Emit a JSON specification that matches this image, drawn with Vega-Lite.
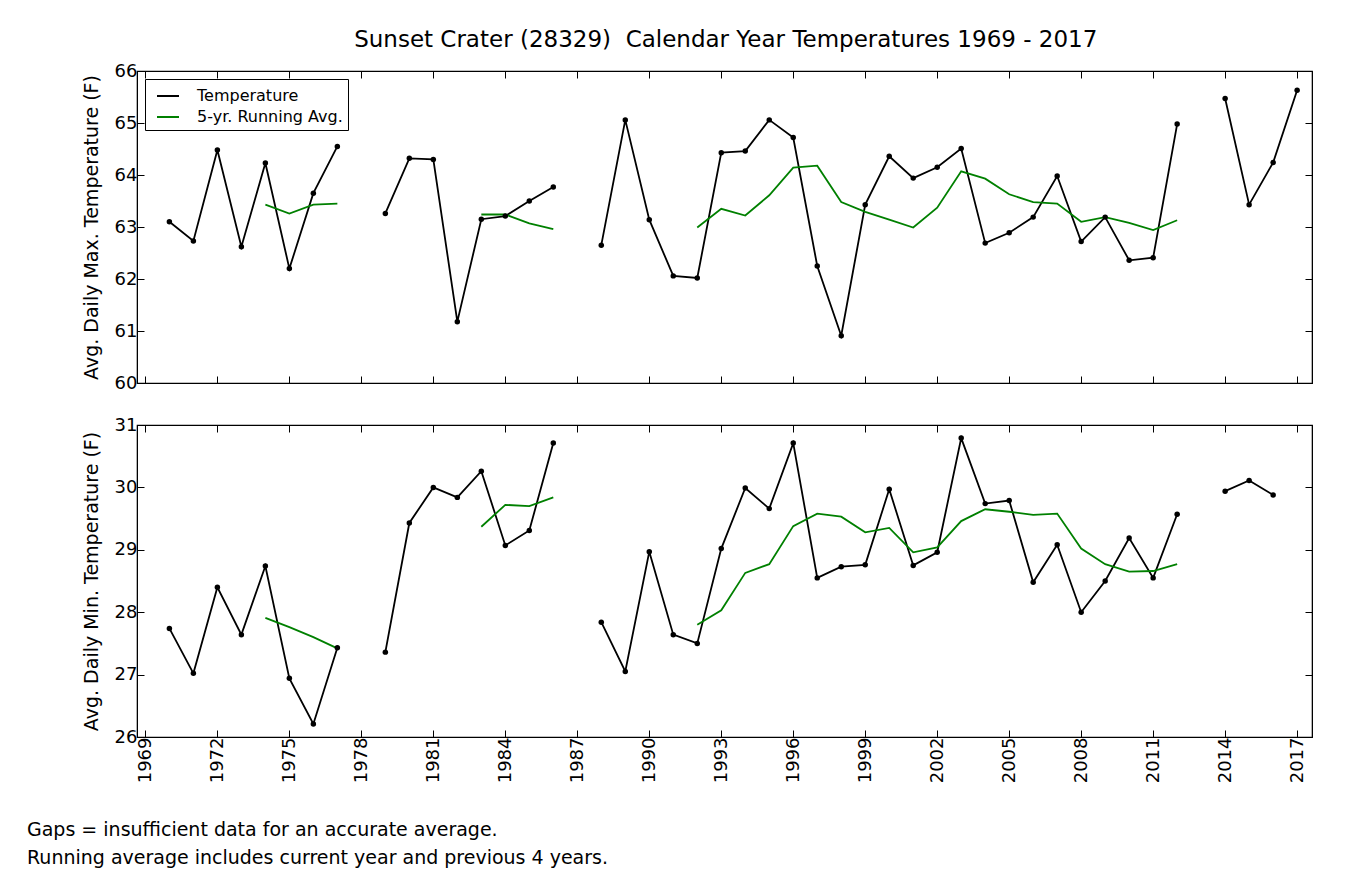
{
  "$schema": "https://vega.github.io/schema/vega-lite/v6.json",
  "background": "white",
  "padding": {"left": 26, "top": 29, "right": 10, "bottom": 5},
  "title": {
    "text": "Sunset Crater (28329)\u00a0 Calendar Year Temperatures 1969 - 2017",
    "font": "DejaVu Sans", "fontSize": 23, "fontWeight": "normal", "color": "black",
    "anchor": "middle", "offset": 9, "dx": 56
  },
  "config": {
    "font": "DejaVu Sans",
    "view": {"stroke": "black", "strokeWidth": 1.2},
    "axis": {
      "domainColor": "black", "tickColor": "black", "labelColor": "black", "titleColor": "black",
      "labelFont": "DejaVu Sans", "titleFont": "DejaVu Sans", "labelFontSize": 18, "titleFontSize": 19,
      "titleFontWeight": "normal", "grid": false, "tickSize": -7, "tickWidth": 1, "labelPadding": 7
    }
  },
  "datasets": {
    "tmax": [
      {"year": 1970, "series": "Temperature", "temp": 63.10},
      {"year": 1971, "series": "Temperature", "temp": 62.73},
      {"year": 1972, "series": "Temperature", "temp": 64.48},
      {"year": 1973, "series": "Temperature", "temp": 62.62},
      {"year": 1974, "series": "Temperature", "temp": 64.23},
      {"year": 1975, "series": "Temperature", "temp": 62.20},
      {"year": 1976, "series": "Temperature", "temp": 63.65},
      {"year": 1977, "series": "Temperature", "temp": 64.55},
      {"year": 1978, "series": "Temperature", "temp": null},
      {"year": 1979, "series": "Temperature", "temp": 63.26},
      {"year": 1980, "series": "Temperature", "temp": 64.32},
      {"year": 1981, "series": "Temperature", "temp": 64.30},
      {"year": 1982, "series": "Temperature", "temp": 61.18},
      {"year": 1983, "series": "Temperature", "temp": 63.15},
      {"year": 1984, "series": "Temperature", "temp": 63.21},
      {"year": 1985, "series": "Temperature", "temp": 63.50},
      {"year": 1986, "series": "Temperature", "temp": 63.77},
      {"year": 1987, "series": "Temperature", "temp": null},
      {"year": 1988, "series": "Temperature", "temp": 62.65},
      {"year": 1989, "series": "Temperature", "temp": 65.06},
      {"year": 1990, "series": "Temperature", "temp": 63.14},
      {"year": 1991, "series": "Temperature", "temp": 62.06},
      {"year": 1992, "series": "Temperature", "temp": 62.02},
      {"year": 1993, "series": "Temperature", "temp": 64.43},
      {"year": 1994, "series": "Temperature", "temp": 64.46},
      {"year": 1995, "series": "Temperature", "temp": 65.06},
      {"year": 1996, "series": "Temperature", "temp": 64.72},
      {"year": 1997, "series": "Temperature", "temp": 62.25},
      {"year": 1998, "series": "Temperature", "temp": 60.91},
      {"year": 1999, "series": "Temperature", "temp": 63.43},
      {"year": 2000, "series": "Temperature", "temp": 64.36},
      {"year": 2001, "series": "Temperature", "temp": 63.94},
      {"year": 2002, "series": "Temperature", "temp": 64.15},
      {"year": 2003, "series": "Temperature", "temp": 64.51},
      {"year": 2004, "series": "Temperature", "temp": 62.69},
      {"year": 2005, "series": "Temperature", "temp": 62.89},
      {"year": 2006, "series": "Temperature", "temp": 63.19},
      {"year": 2007, "series": "Temperature", "temp": 63.98},
      {"year": 2008, "series": "Temperature", "temp": 62.72},
      {"year": 2009, "series": "Temperature", "temp": 63.19},
      {"year": 2010, "series": "Temperature", "temp": 62.36},
      {"year": 2011, "series": "Temperature", "temp": 62.41},
      {"year": 2012, "series": "Temperature", "temp": 64.98},
      {"year": 2013, "series": "Temperature", "temp": null},
      {"year": 2014, "series": "Temperature", "temp": 65.47},
      {"year": 2015, "series": "Temperature", "temp": 63.43},
      {"year": 2016, "series": "Temperature", "temp": 64.24},
      {"year": 2017, "series": "Temperature", "temp": 65.63},
      {"year": 1974, "series": "5-yr. Running Avg.", "temp": 63.43},
      {"year": 1975, "series": "5-yr. Running Avg.", "temp": 63.26},
      {"year": 1976, "series": "5-yr. Running Avg.", "temp": 63.43},
      {"year": 1977, "series": "5-yr. Running Avg.", "temp": 63.45},
      {"year": 1978, "series": "5-yr. Running Avg.", "temp": null},
      {"year": 1983, "series": "5-yr. Running Avg.", "temp": 63.24},
      {"year": 1984, "series": "5-yr. Running Avg.", "temp": 63.24},
      {"year": 1985, "series": "5-yr. Running Avg.", "temp": 63.07},
      {"year": 1986, "series": "5-yr. Running Avg.", "temp": 62.96},
      {"year": 1987, "series": "5-yr. Running Avg.", "temp": null},
      {"year": 1992, "series": "5-yr. Running Avg.", "temp": 62.99},
      {"year": 1993, "series": "5-yr. Running Avg.", "temp": 63.35},
      {"year": 1994, "series": "5-yr. Running Avg.", "temp": 63.22},
      {"year": 1995, "series": "5-yr. Running Avg.", "temp": 63.61},
      {"year": 1996, "series": "5-yr. Running Avg.", "temp": 64.14},
      {"year": 1997, "series": "5-yr. Running Avg.", "temp": 64.18},
      {"year": 1998, "series": "5-yr. Running Avg.", "temp": 63.48},
      {"year": 1999, "series": "5-yr. Running Avg.", "temp": 63.29},
      {"year": 2000, "series": "5-yr. Running Avg.", "temp": 63.14},
      {"year": 2001, "series": "5-yr. Running Avg.", "temp": 62.99},
      {"year": 2002, "series": "5-yr. Running Avg.", "temp": 63.37},
      {"year": 2003, "series": "5-yr. Running Avg.", "temp": 64.07},
      {"year": 2004, "series": "5-yr. Running Avg.", "temp": 63.93},
      {"year": 2005, "series": "5-yr. Running Avg.", "temp": 63.63},
      {"year": 2006, "series": "5-yr. Running Avg.", "temp": 63.48},
      {"year": 2007, "series": "5-yr. Running Avg.", "temp": 63.45},
      {"year": 2008, "series": "5-yr. Running Avg.", "temp": 63.10},
      {"year": 2009, "series": "5-yr. Running Avg.", "temp": 63.19},
      {"year": 2010, "series": "5-yr. Running Avg.", "temp": 63.08},
      {"year": 2011, "series": "5-yr. Running Avg.", "temp": 62.94},
      {"year": 2012, "series": "5-yr. Running Avg.", "temp": 63.13}
    ],
    "tmin": [
      {"year": 1970, "series": "Temperature", "temp": 27.74},
      {"year": 1971, "series": "Temperature", "temp": 27.02},
      {"year": 1972, "series": "Temperature", "temp": 28.40},
      {"year": 1973, "series": "Temperature", "temp": 27.64},
      {"year": 1974, "series": "Temperature", "temp": 28.74},
      {"year": 1975, "series": "Temperature", "temp": 26.94},
      {"year": 1976, "series": "Temperature", "temp": 26.21},
      {"year": 1977, "series": "Temperature", "temp": 27.43},
      {"year": 1978, "series": "Temperature", "temp": null},
      {"year": 1979, "series": "Temperature", "temp": 27.36},
      {"year": 1980, "series": "Temperature", "temp": 29.43},
      {"year": 1981, "series": "Temperature", "temp": 30.00},
      {"year": 1982, "series": "Temperature", "temp": 29.84},
      {"year": 1983, "series": "Temperature", "temp": 30.26},
      {"year": 1984, "series": "Temperature", "temp": 29.07},
      {"year": 1985, "series": "Temperature", "temp": 29.31},
      {"year": 1986, "series": "Temperature", "temp": 30.71},
      {"year": 1987, "series": "Temperature", "temp": null},
      {"year": 1988, "series": "Temperature", "temp": 27.84},
      {"year": 1989, "series": "Temperature", "temp": 27.05},
      {"year": 1990, "series": "Temperature", "temp": 28.97},
      {"year": 1991, "series": "Temperature", "temp": 27.64},
      {"year": 1992, "series": "Temperature", "temp": 27.50},
      {"year": 1993, "series": "Temperature", "temp": 29.02},
      {"year": 1994, "series": "Temperature", "temp": 29.99},
      {"year": 1995, "series": "Temperature", "temp": 29.66},
      {"year": 1996, "series": "Temperature", "temp": 30.71},
      {"year": 1997, "series": "Temperature", "temp": 28.55},
      {"year": 1998, "series": "Temperature", "temp": 28.73},
      {"year": 1999, "series": "Temperature", "temp": 28.76},
      {"year": 2000, "series": "Temperature", "temp": 29.97},
      {"year": 2001, "series": "Temperature", "temp": 28.75},
      {"year": 2002, "series": "Temperature", "temp": 28.96},
      {"year": 2003, "series": "Temperature", "temp": 30.79},
      {"year": 2004, "series": "Temperature", "temp": 29.74},
      {"year": 2005, "series": "Temperature", "temp": 29.79},
      {"year": 2006, "series": "Temperature", "temp": 28.48},
      {"year": 2007, "series": "Temperature", "temp": 29.08},
      {"year": 2008, "series": "Temperature", "temp": 28.00},
      {"year": 2009, "series": "Temperature", "temp": 28.50},
      {"year": 2010, "series": "Temperature", "temp": 29.19},
      {"year": 2011, "series": "Temperature", "temp": 28.55},
      {"year": 2012, "series": "Temperature", "temp": 29.57},
      {"year": 2013, "series": "Temperature", "temp": null},
      {"year": 2014, "series": "Temperature", "temp": 29.94},
      {"year": 2015, "series": "Temperature", "temp": 30.11},
      {"year": 2016, "series": "Temperature", "temp": 29.88},
      {"year": 1974, "series": "5-yr. Running Avg.", "temp": 27.91},
      {"year": 1975, "series": "5-yr. Running Avg.", "temp": 27.76},
      {"year": 1976, "series": "5-yr. Running Avg.", "temp": 27.60},
      {"year": 1977, "series": "5-yr. Running Avg.", "temp": 27.42},
      {"year": 1978, "series": "5-yr. Running Avg.", "temp": null},
      {"year": 1983, "series": "5-yr. Running Avg.", "temp": 29.37},
      {"year": 1984, "series": "5-yr. Running Avg.", "temp": 29.72},
      {"year": 1985, "series": "5-yr. Running Avg.", "temp": 29.70},
      {"year": 1986, "series": "5-yr. Running Avg.", "temp": 29.84},
      {"year": 1987, "series": "5-yr. Running Avg.", "temp": null},
      {"year": 1992, "series": "5-yr. Running Avg.", "temp": 27.80},
      {"year": 1993, "series": "5-yr. Running Avg.", "temp": 28.03},
      {"year": 1994, "series": "5-yr. Running Avg.", "temp": 28.63},
      {"year": 1995, "series": "5-yr. Running Avg.", "temp": 28.77},
      {"year": 1996, "series": "5-yr. Running Avg.", "temp": 29.38},
      {"year": 1997, "series": "5-yr. Running Avg.", "temp": 29.58},
      {"year": 1998, "series": "5-yr. Running Avg.", "temp": 29.53},
      {"year": 1999, "series": "5-yr. Running Avg.", "temp": 29.28},
      {"year": 2000, "series": "5-yr. Running Avg.", "temp": 29.35},
      {"year": 2001, "series": "5-yr. Running Avg.", "temp": 28.96},
      {"year": 2002, "series": "5-yr. Running Avg.", "temp": 29.04},
      {"year": 2003, "series": "5-yr. Running Avg.", "temp": 29.46},
      {"year": 2004, "series": "5-yr. Running Avg.", "temp": 29.65},
      {"year": 2005, "series": "5-yr. Running Avg.", "temp": 29.61},
      {"year": 2006, "series": "5-yr. Running Avg.", "temp": 29.56},
      {"year": 2007, "series": "5-yr. Running Avg.", "temp": 29.58},
      {"year": 2008, "series": "5-yr. Running Avg.", "temp": 29.02},
      {"year": 2009, "series": "5-yr. Running Avg.", "temp": 28.77},
      {"year": 2010, "series": "5-yr. Running Avg.", "temp": 28.65},
      {"year": 2011, "series": "5-yr. Running Avg.", "temp": 28.66},
      {"year": 2012, "series": "5-yr. Running Avg.", "temp": 28.77}
    ]
  },
  "spacing": 22,
  "resolve": {"scale": {"color": "independent"}},
  "vconcat": [
    {
      "data": {"name": "tmax"},
      "width": 1175,
      "height": 312,
      "resolve": {"axis": {"x": "independent", "y": "independent"}},
      "layer": [
        {
          "mark": {"type": "line", "strokeWidth": 1.8},
          "encoding": {
            "x": {"field": "year", "type": "quantitative",
                  "scale": {"domain": [1968.65, 2017.62], "nice": false, "zero": false},
                  "axis": {"values": [1969,1972,1975,1978,1981,1984,1987,1990,1993,1996,1999,2002,2005,2008,2011,2014,2017], "labels": false, "title": null}},
            "y": {"field": "temp", "type": "quantitative",
                  "scale": {"domain": [60, 66], "nice": false, "zero": false},
                  "axis": {"values": [60,61,62,63,64,65,66], "title": "Avg. Daily Max. Temperature (F)", "titlePadding": 13}},
            "color": {"field": "series", "type": "nominal",
                      "scale": {"domain": ["Temperature", "5-yr. Running Avg."], "range": ["black", "#008000"]},
                      "legend": {"title": null, "orient": "none", "legendX": 8, "legendY": 8, "symbolType": "stroke", "symbolSize": 484,
                                 "symbolStrokeWidth": 2, "symbolOffset": 6, "labelFontSize": 16, "labelFont": "DejaVu Sans", "labelColor": "black",
                                 "strokeColor": "black", "fillColor": "white", "padding": 5, "rowPadding": 1, "labelOffset": 17}}
          }
        },
        {
          "transform": [{"filter": "datum.series === 'Temperature' && datum.temp != null"}],
          "mark": {"type": "point", "filled": true, "size": 30, "color": "black", "opacity": 1},
          "encoding": {
            "x": {"field": "year", "type": "quantitative",
                  "scale": {"domain": [1968.65, 2017.62], "nice": false, "zero": false},
                  "axis": {"orient": "top", "values": [1969,1972,1975,1978,1981,1984,1987,1990,1993,1996,1999,2002,2005,2008,2011,2014,2017], "labels": false, "title": null}},
            "y": {"field": "temp", "type": "quantitative",
                  "scale": {"domain": [60, 66], "nice": false, "zero": false},
                  "axis": {"orient": "right", "values": [60,61,62,63,64,65,66], "labels": false, "title": null}}
          }
        }
      ]
    },
    {
      "data": {"name": "tmin"},
      "width": 1175,
      "height": 312,
      "title": {
        "text": ["Gaps = insufficient data for an accurate average.", "Running average includes current year and previous 4 years."],
        "orient": "bottom", "anchor": "start", "frame": "group", "font": "DejaVu Sans", "fontSize": 19, "fontWeight": "normal",
        "color": "black", "lineHeight": 28, "dx": -110, "offset": 38
      },
      "resolve": {"axis": {"x": "independent", "y": "independent"}},
      "layer": [
        {
          "mark": {"type": "line", "strokeWidth": 1.8},
          "encoding": {
            "x": {"field": "year", "type": "quantitative",
                  "scale": {"domain": [1968.65, 2017.62], "nice": false, "zero": false},
                  "axis": {"values": [1969,1972,1975,1978,1981,1984,1987,1990,1993,1996,1999,2002,2005,2008,2011,2014,2017], "format": "d", "labelAngle": 270, "title": null}},
            "y": {"field": "temp", "type": "quantitative",
                  "scale": {"domain": [26, 31], "nice": false, "zero": false},
                  "axis": {"values": [26,27,28,29,30,31], "title": "Avg. Daily Min. Temperature (F)", "titlePadding": 13}},
            "color": {"field": "series", "type": "nominal",
                      "scale": {"domain": ["Temperature", "5-yr. Running Avg."], "range": ["black", "#008000"]},
                      "legend": null}
          }
        },
        {
          "transform": [{"filter": "datum.series === 'Temperature' && datum.temp != null"}],
          "mark": {"type": "point", "filled": true, "size": 30, "color": "black", "opacity": 1},
          "encoding": {
            "x": {"field": "year", "type": "quantitative",
                  "scale": {"domain": [1968.65, 2017.62], "nice": false, "zero": false},
                  "axis": {"orient": "top", "values": [1969,1972,1975,1978,1981,1984,1987,1990,1993,1996,1999,2002,2005,2008,2011,2014,2017], "labels": false, "title": null}},
            "y": {"field": "temp", "type": "quantitative",
                  "scale": {"domain": [26, 31], "nice": false, "zero": false},
                  "axis": {"orient": "right", "values": [26,27,28,29,30,31], "labels": false, "title": null}}
          }
        }
      ]
    }
  ]
}
